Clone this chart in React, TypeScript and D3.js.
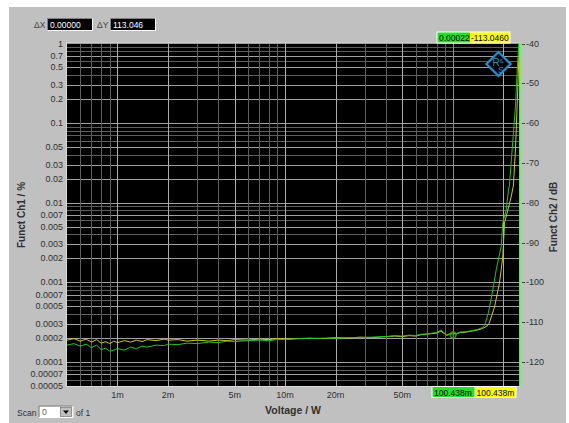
import React from 'react';
import * as d3 from 'd3';

// ---- data (x in mW, y in %) ----
const yellowX = [0.5, 0.55, 0.6, 0.65, 0.7, 0.75, 0.8, 0.85, 0.9, 0.95, 1.0, 1.1, 1.2, 1.3, 1.4, 1.5, 1.7, 1.9, 2.0, 2.3, 2.6, 3.0, 3.5, 4.0, 4.5, 5, 6, 7, 8, 9, 10, 12, 14, 17, 20, 24, 28, 33, 40, 45, 50, 55, 60, 65, 70, 75, 80, 85, 88, 92, 96, 100, 105, 110, 120, 130, 140, 150, 160, 165, 177.3, 189.8, 198.7, 203.4, 212.8, 222.9, 230, 236.4, 244, 247.4, 249.8];
const yellowY = [1.884e-4, 1.968e-4, 1.830e-4, 1.939e-4, 1.778e-4, 1.912e-4, 1.728e-4, 1.804e-4, 1.703e-4, 1.830e-4, 1.753e-4, 1.857e-4, 1.778e-4, 1.884e-4, 1.804e-4, 1.912e-4, 1.857e-4, 1.939e-4, 1.884e-4, 1.912e-4, 1.830e-4, 1.884e-4, 1.830e-4, 1.884e-4, 1.857e-4, 1.912e-4, 1.884e-4, 1.939e-4, 1.912e-4, 1.968e-4, 1.939e-4, 1.968e-4, 1.996e-4, 1.968e-4, 2.025e-4, 1.996e-4, 2.055e-4, 2.025e-4, 2.085e-4, 2.115e-4, 2.085e-4, 2.146e-4, 2.115e-4, 2.209e-4, 2.241e-4, 2.274e-4, 2.307e-4, 2.444e-4, 2.307e-4, 2.177e-4, 2.274e-4, 2.307e-4, 2.241e-4, 2.341e-4, 2.375e-4, 2.444e-4, 2.516e-4, 2.628e-4, 2.825e-4, 3.081e-4, 4.9e-4, 9.8e-4, 2.08e-3, 5.56e-3, 8.1e-3, 1.18e-2, 1.67e-2, 4.6e-2, 0.26, 0.62, 1.0];

const greenX = [0.5, 0.55, 0.6, 0.65, 0.7, 0.75, 0.8, 0.85, 0.9, 0.95, 1.0, 1.1, 1.2, 1.3, 1.4, 1.5, 1.7, 1.9, 2.0, 2.3, 2.6, 3.0, 3.5, 4.0, 4.5, 5, 6, 7, 8, 9, 10, 12, 14, 17, 20, 24, 28, 33, 40, 45, 50, 55, 60, 65, 70, 75, 80, 85, 88, 92, 96, 100, 105, 110, 120, 130, 140, 150, 155, 163.3, 173.2, 182.2, 194.3, 198.7, 208.2, 214.8, 217.8, 225.9, 236.4, 244, 248];
const greenY = [1.630e-4, 1.703e-4, 1.584e-4, 1.678e-4, 1.517e-4, 1.630e-4, 1.431e-4, 1.495e-4, 1.371e-4, 1.411e-4, 1.473e-4, 1.411e-4, 1.539e-4, 1.473e-4, 1.584e-4, 1.539e-4, 1.630e-4, 1.607e-4, 1.678e-4, 1.654e-4, 1.728e-4, 1.703e-4, 1.778e-4, 1.753e-4, 1.830e-4, 1.804e-4, 1.857e-4, 1.884e-4, 1.857e-4, 1.912e-4, 1.912e-4, 1.968e-4, 1.968e-4, 1.996e-4, 1.996e-4, 2.025e-4, 2.025e-4, 2.055e-4, 2.085e-4, 2.146e-4, 2.115e-4, 2.177e-4, 2.146e-4, 2.241e-4, 2.241e-4, 2.307e-4, 2.341e-4, 2.516e-4, 2.375e-4, 2.146e-4, 2.241e-4, 2.341e-4, 2.274e-4, 2.375e-4, 2.409e-4, 2.480e-4, 2.553e-4, 2.705e-4, 2.908e-4, 4.2e-4, 8.0e-4, 1.5e-3, 2.8e-3, 5.6e-3, 8.1e-3, 1.44e-2, 1.67e-2, 4.6e-2, 0.16, 0.62, 1.0];

const xTickValues = [1, 2, 5, 10, 20, 50];
const xTickLabels = ['1m', '2m', '5m', '10m', '20m', '50m'];
const yTickValues = [1, 0.7, 0.5, 0.3, 0.2, 0.1, 0.05, 0.03, 0.02, 0.01, 0.007, 0.005, 0.003, 0.002, 0.001, 0.0007, 0.0005, 0.0003, 0.0002, 0.0001, 0.00007, 0.00005];
const yTickLabels = ['1', '0.7', '0.5', '0.3', '0.2', '0.1', '0.05', '0.03', '0.02', '0.01', '0.007', '0.005', '0.003', '0.002', '0.001', '0.0007', '0.0005', '0.0003', '0.0002', '0.0001', '0.00007', '0.00005'];
const dbTickValues = [-40, -50, -60, -70, -80, -90, -100, -110, -120];

const cursorX = 100.438;
const cursorY = 0.00022;
const cursorXLabel = '100.438m';
const cursorCh1Label = '0.00022';
const cursorCh2Label = '-113.0460';
const deltaXLabel = '0.00000';
const deltaYLabel = '113.046';

const W = 569, H = 423;
const L = 67, R = 519.5, T = 43.5, B = 386;
const FONT = '"Liberation Sans", Arial, sans-serif';

function Sunken({ x, y, w, h, fill }: { x: number; y: number; w: number; h: number; fill: string }) {
  return (
    <g>
      <rect x={x} y={y} width={w} height={h} fill={fill} />
      <path d={`M${x - 0.5},${y + h}V${y - 0.5}H${x + w}`} stroke="#808080" fill="none" />
      <path d={`M${x - 0.5},${y + h + 0.5}H${x + w + 0.5}V${y - 0.5}`} stroke="#ffffff" fill="none" />
    </g>
  );
}

export default function App() {
  const x = d3.scaleLog().domain([0.5, 250]).range([L, R]);
  const y = d3.scaleLog().domain([0.00005, 1]).range([B, T]);
  const yDb = d3.scaleLinear().domain([20 * Math.log10(0.00005 / 100), -40]).range([B, T]);

  const xGrid: { v: number; major: boolean }[] = [];
  for (const dec of [0.1, 1, 10, 100]) {
    for (let k = 1; k <= 9; k++) {
      const v = dec * k;
      if (v > 0.5 && v < 250) xGrid.push({ v, major: xTickValues.some(t => Math.abs(t - v) < 1e-9) || Math.abs(v - 100) < 1e-9 || Math.abs(v - 200) < 1e-9 });
    }
  }
  const yGrid: { v: number; major: boolean }[] = [];
  for (const dec of [0.00001, 0.0001, 0.001, 0.01, 0.1, 1]) {
    for (let k = 1; k <= 9; k++) {
      const v = dec * k;
      if (v > 0.00005 * 1.0001 && v < 0.9999) yGrid.push({ v, major: yTickValues.some(t => Math.abs(t - v) / t < 1e-6) });
    }
  }

  const line = d3.line<[number, number]>().x(d => x(d[0])).y(d => y(d[1]));
  const yellowPath = line(yellowX.map((v, i) => [v, yellowY[i]] as [number, number])) || '';
  const greenPath = line(greenX.map((v, i) => [v, greenY[i]] as [number, number])) || '';

  const cx = x(cursorX);
  const cy = y(cursorY);

  return (
    <div style={{ position: 'absolute', left: 0, top: 0, width: W, height: H, background: '#ffffff' }}>
      <svg width={W} height={H} style={{ display: 'block', fontFamily: FONT }}>
        <rect x={9} y={7} width={557} height={416} fill="#c0c0c0" />
        <defs>
          <clipPath id="plotclip">
            <rect x={L} y={T} width={R - L} height={B - T} />
          </clipPath>
        </defs>
        <rect x={L} y={T} width={R - L} height={B - T} fill="#000000" />
        {yGrid.map((g, i) => (
          <line key={'hy' + i} x1={L} x2={R} y1={Math.round(y(g.v)) + 0.5} y2={Math.round(y(g.v)) + 0.5}
            stroke={g.major ? '#a0a0a0' : '#5e5e5e'} strokeWidth={1} />
        ))}
        {xGrid.map((g, i) => (
          <line key={'vx' + i} y1={T} y2={B} x1={Math.round(x(g.v)) + 0.5} x2={Math.round(x(g.v)) + 0.5}
            stroke={g.major ? '#acacac' : '#5e5e5e'} strokeWidth={1} />
        ))}
        <rect x={L - 0.5} y={T - 0.5} width={R - L + 1} height={B - T + 1} fill="none" stroke="#d8d8d8" strokeWidth={1} />
        {/* logo */}
        <g transform="translate(498.5,64)">
          <path d="M0,-12 L12,0 L0,12 L-12,0 Z" fill="#000000" stroke="#1c94d4" strokeWidth={2.2} />
          <text x={-2.5} y={2} fontSize={10} fill="#1c94d4" textAnchor="middle">R</text>
          <text x={3} y={-1} fontSize={6} fill="#1c94d4" textAnchor="middle">&amp;</text>
          <text x={2.5} y={8.5} fontSize={9} fill="#1c94d4" textAnchor="middle">S</text>
        </g>
        <line x1={Math.round(cx) + 0.5} x2={Math.round(cx) + 0.5} y1={T} y2={B} stroke="#3cc43c" strokeWidth={1} />
        <g clipPath="url(#plotclip)">
          <path d={yellowPath} fill="none" stroke="#d4c800" strokeWidth={1} />
          <path d={greenPath} fill="none" stroke="#22c422" strokeWidth={1} />
          <circle cx={cx} cy={cy} r={3} fill="none" stroke="#3f8f1f" strokeWidth={1.2} />
          <path d={`M${cx - 4},${cy}H${cx + 4}M${cx},${cy - 4}V${cy + 4}`} stroke="#3f8f1f" strokeWidth={0.8} />
        </g>
        <line x1={520.5} x2={520.5} y1={T - 0.5} y2={B + 0.5} stroke="#74f074" strokeWidth={2} />
        {yTickValues.map((v, i) => (
          <text key={'yl' + i} x={63} y={y(v) + 3} fontSize={9} fill="#303030" textAnchor="end">{yTickLabels[i]}</text>
        ))}
        {dbTickValues.map((v, i) => (
          <g key={'db' + i}>
            <line x1={522} x2={525} y1={Math.round(yDb(v)) + 0.5} y2={Math.round(yDb(v)) + 0.5} stroke="#404040" />
            <text x={526} y={yDb(v) + 3} fontSize={9} fill="#303030">{v}</text>
          </g>
        ))}
        {xTickValues.map((v, i) => (
          <text key={'xl' + i} x={x(v)} y={398} fontSize={9} fill="#303030" textAnchor="middle">{xTickLabels[i]}</text>
        ))}
        <text x={293} y={414} fontSize={10.5} fontWeight="bold" fill="#303030" textAnchor="middle">Voltage / W</text>
        <text transform="translate(25,215) rotate(-90)" fontSize={10} fontWeight="bold" fill="#303030" textAnchor="middle">Funct Ch1 / %</text>
        <text transform="translate(557,217) rotate(-90)" fontSize={10} fontWeight="bold" fill="#303030" textAnchor="middle">Funct Ch2 / dB</text>
        <text x={34} y={28} fontSize={8.5} fill="#404040">ΔX</text>
        <Sunken x={48} y={19} w={44} h={11} fill="#000000" />
        <text x={50} y={28} fontSize={8.5} fill="#ffffff">{deltaXLabel}</text>
        <text x={97} y={28} fontSize={8.5} fill="#404040">ΔY</text>
        <Sunken x={111} y={19} w={44} h={11} fill="#000000" />
        <text x={113} y={28} fontSize={8.5} fill="#ffffff">{deltaYLabel}</text>
        <rect x={436.5} y={31.5} width={74} height={12} fill="#ffffff" />
        <rect x={437.5} y={32.5} width={32.5} height={10} fill="#22e022" />
        <rect x={470} y={32.5} width={39.5} height={10} fill="#ffff00" />
        <text x={439} y={41} fontSize={8.5} fill="#000000">{cursorCh1Label}</text>
        <text x={471} y={41} fontSize={8.5} fill="#000000">{cursorCh2Label}</text>
        <rect x={431.5} y={386} width={85} height={12} fill="#ffffff" />
        <rect x={432.5} y={387} width={42} height={10} fill="#22e022" />
        <rect x={475} y={387} width={40.5} height={10} fill="#ffff00" />
        <text x={434} y={395.5} fontSize={8.5} fill="#000000">{cursorXLabel}</text>
        <text x={476.5} y={395.5} fontSize={8.5} fill="#000000">{cursorXLabel}</text>
        <text x={17} y={416} fontSize={8.5} fill="#303030">Scan</text>
        <Sunken x={39.5} y={406.5} w={33} h={10.5} fill="#ffffff" />
        <text x={42} y={415} fontSize={8.5} fill="#606060">0</text>
        <rect x={60.5} y={407.5} width={11} height={9} fill="#c0c0c0" stroke="#808080" strokeWidth={0.8} />
        <path d="M63,410.5 L69,410.5 L66,414 Z" fill="#000000" />
        <text x={76} y={416} fontSize={8.5} fill="#303030">of 1</text>
      </svg>
    </div>
  );
}
